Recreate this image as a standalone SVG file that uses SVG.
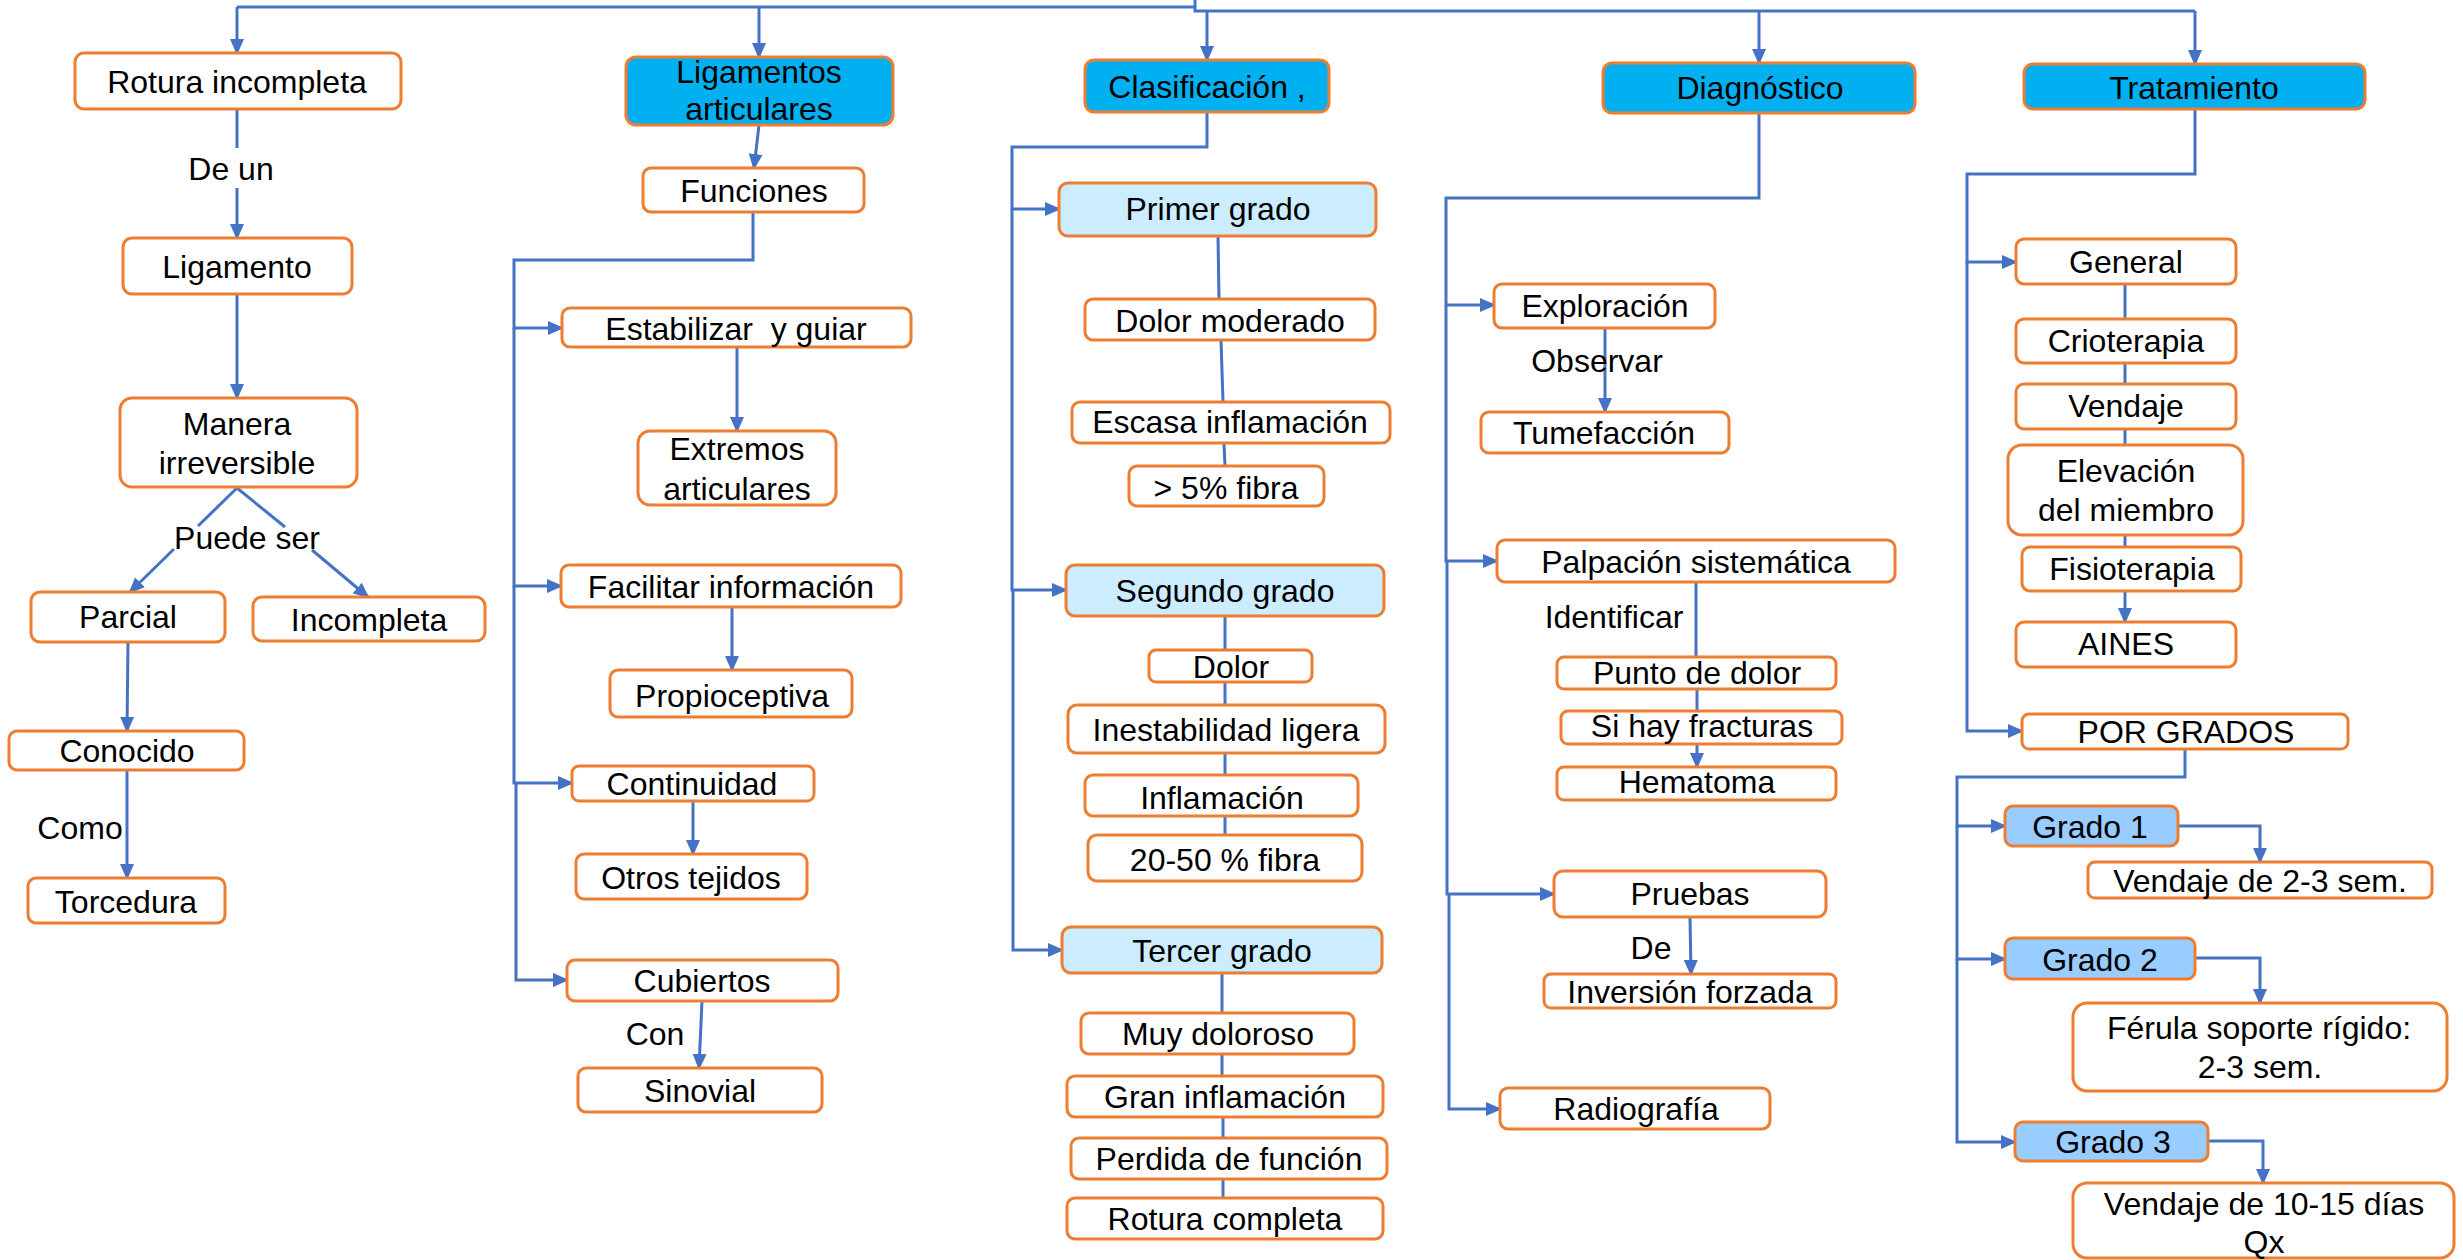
<svg xmlns="http://www.w3.org/2000/svg" width="2463" height="1260" viewBox="0 0 2463 1260">
<style>
.b{fill:#fff;stroke:#ED7D31;stroke-width:3}
.hd{fill:#00B0F0}
.lb{fill:#CCECFF}
.gb{fill:#99CCFF}
text{font-family:"Liberation Sans",Arial,sans-serif;font-size:32px;fill:#000;text-anchor:middle}
.c{fill:none;stroke:#4472C4;stroke-width:3}
.a{marker-end:url(#ah)}
</style>
<defs>
<marker id="ah" markerUnits="userSpaceOnUse" markerWidth="16" markerHeight="16" viewBox="0 0 16 16" refX="14" refY="8" orient="auto"><path d="M0,1 L16,8 L0,15 z" fill="#4472C4"/></marker>
</defs>
<rect width="2463" height="1260" fill="#fff"/>
<g id="connectors">
<path class="c" d="M237,7 H1195 V11 H2195 M1195,0 V11"/>
<path class="c a" d="M237,7 V53"/>
<path class="c a" d="M759,8 V57"/>
<path class="c a" d="M1207,11 V60"/>
<path class="c a" d="M1759,11 V63"/>
<path class="c a" d="M2195,11 V64"/>
<path class="c" d="M237,109 V148"/>
<path class="c a" d="M237,188 V238"/>
<path class="c a" d="M237,294 V398"/>
<path class="c" d="M237,488 L198,526"/>
<path class="c a" d="M174,549 L130,592"/>
<path class="c" d="M237,488 L285,527"/>
<path class="c a" d="M312,550 L368,597"/>
<path class="c a" d="M128,642 L127,731"/>
<path class="c a" d="M127,770 V878"/>
<path class="c a" d="M759,125 L754,168"/>
<path class="c a" d="M753,212 V260 H514 V328 H562"/>
<path class="c a" d="M514,328 V586 H561"/>
<path class="c a" d="M514,586 V783 H572"/>
<path class="c a" d="M516,783 V980 H567"/>
<path class="c a" d="M737,347 V431"/>
<path class="c a" d="M732,607 V670"/>
<path class="c a" d="M693,801 V854"/>
<path class="c a" d="M702,1001 L699,1068"/>
<path class="c a" d="M1207,112 V147 H1012 V209 H1059"/>
<path class="c a" d="M1012,209 V590 H1066"/>
<path class="c a" d="M1013,590 V950 H1062"/>
<path class="c" d="M1218,236 L1219,299 M1221,340 L1223,402 M1224,443 L1225,466"/>
<path class="c" d="M1225,616 V650 M1225,682 V705 M1225,753 V775 M1225,816 V835"/>
<path class="c" d="M1222,973 V1013 M1222,1054 V1076 M1223,1117 V1138 M1223,1179 V1198"/>
<path class="c a" d="M1759,113 V198 H1446 V305 H1494"/>
<path class="c a" d="M1446,305 V561 H1497"/>
<path class="c a" d="M1447,561 V894 H1554"/>
<path class="c a" d="M1449,894 V1109 H1500"/>
<path class="c a" d="M1605,328 V412"/>
<path class="c" d="M1696,582 V657 M1697,689 V711"/>
<path class="c a" d="M1697,744 V767"/>
<path class="c a" d="M1690,917 L1691,974"/>
<path class="c a" d="M2195,109 V174 H1967 V262 H2016"/>
<path class="c a" d="M1967,262 V731 H2022"/>
<path class="c" d="M2125,284 V319 M2125,363 V384 M2125,429 V445 M2125,535 V547"/>
<path class="c a" d="M2125,591 V622"/>
<path class="c a" d="M2185,749 V777 H1957 V826 H2005"/>
<path class="c a" d="M1957,826 V959 H2005"/>
<path class="c a" d="M1957,959 V1142 H2015"/>
<path class="c a" d="M2178,826 H2260 V862"/>
<path class="c a" d="M2195,958 H2260 V1003"/>
<path class="c a" d="M2208,1141 H2263 V1183"/>
</g>
<g id="labels">
<text x="231" y="180">De un</text>
<text x="247" y="549">Puede ser</text>
<text x="80" y="839">Como</text>
<text x="655" y="1045">Con</text>
<text x="1597" y="372">Observar</text>
<text x="1614" y="628">Identificar</text>
<text x="1651" y="959">De</text>
</g>
<g id="n_rotura"><rect class="b" x="75" y="53" width="326" height="56" rx="9"/><text x="237" y="93">Rotura incompleta</text></g>
<g id="n_ligamento"><rect class="b" x="123" y="238" width="229" height="56" rx="9"/><text x="237" y="278">Ligamento</text></g>
<g id="n_manera"><rect class="b" x="120" y="398" width="237" height="89" rx="12"/><text x="237" y="435">Manera</text><text x="237" y="474">irreversible</text></g>
<g id="n_parcial"><rect class="b" x="31" y="592" width="194" height="50" rx="9"/><text x="128" y="628">Parcial</text></g>
<g id="n_incompleta"><rect class="b" x="253" y="597" width="232" height="44" rx="9"/><text x="369" y="631">Incompleta</text></g>
<g id="n_conocido"><rect class="b" x="9" y="731" width="235" height="39" rx="8"/><text x="127" y="762">Conocido</text></g>
<g id="n_torcedura"><rect class="b" x="28" y="878" width="197" height="45" rx="8"/><text x="126" y="913">Torcedura</text></g>
<g id="n_ligart"><rect class="b hd" x="626" y="57" width="267" height="68" rx="10"/><text x="759" y="83">Ligamentos</text><text x="759" y="120">articulares</text></g>
<g id="n_funciones"><rect class="b" x="643" y="168" width="221" height="44" rx="8"/><text x="754" y="202">Funciones</text></g>
<g id="n_estab"><rect class="b" x="562" y="308" width="349" height="39" rx="8"/><text x="736" y="340" xml:space="preserve">Estabilizar  y guiar</text></g>
<g id="n_extremos"><rect class="b" x="638" y="431" width="198" height="74" rx="12"/><text x="737" y="460">Extremos</text><text x="737" y="500">articulares</text></g>
<g id="n_facilitar"><rect class="b" x="561" y="565" width="340" height="42" rx="8"/><text x="731" y="598">Facilitar información</text></g>
<g id="n_propio"><rect class="b" x="610" y="670" width="242" height="47" rx="8"/><text x="732" y="707">Propioceptiva</text></g>
<g id="n_continuidad"><rect class="b" x="572" y="766" width="242" height="35" rx="7"/><text x="692" y="795">Continuidad</text></g>
<g id="n_otros"><rect class="b" x="576" y="854" width="231" height="45" rx="8"/><text x="691" y="889">Otros tejidos</text></g>
<g id="n_cubiertos"><rect class="b" x="567" y="960" width="271" height="41" rx="8"/><text x="702" y="992">Cubiertos</text></g>
<g id="n_sinovial"><rect class="b" x="578" y="1068" width="244" height="44" rx="8"/><text x="700" y="1102">Sinovial</text></g>
<g id="n_clasif"><rect class="b hd" x="1085" y="60" width="244" height="52" rx="9"/><text x="1207" y="98">Clasificación ,</text></g>
<g id="n_primer"><rect class="b lb" x="1059" y="183" width="317" height="53" rx="9"/><text x="1218" y="220">Primer grado</text></g>
<g id="n_dolormod"><rect class="b" x="1085" y="299" width="290" height="41" rx="8"/><text x="1230" y="332">Dolor moderado</text></g>
<g id="n_escasa"><rect class="b" x="1072" y="402" width="318" height="41" rx="8"/><text x="1230" y="433">Escasa inflamación</text></g>
<g id="n_5fibra"><rect class="b" x="1129" y="466" width="195" height="40" rx="8"/><text x="1226" y="499">&gt; 5% fibra</text></g>
<g id="n_segundo"><rect class="b lb" x="1066" y="565" width="318" height="51" rx="9"/><text x="1225" y="602">Segundo grado</text></g>
<g id="n_dolor"><rect class="b" x="1149" y="650" width="163" height="32" rx="7"/><text x="1231" y="678">Dolor</text></g>
<g id="n_inest"><rect class="b" x="1068" y="705" width="317" height="48" rx="9"/><text x="1226" y="741">Inestabilidad ligera</text></g>
<g id="n_inflam"><rect class="b" x="1085" y="775" width="273" height="41" rx="8"/><text x="1222" y="809">Inflamación</text></g>
<g id="n_2050"><rect class="b" x="1088" y="835" width="274" height="46" rx="9"/><text x="1225" y="871">20-50 % fibra</text></g>
<g id="n_tercer"><rect class="b lb" x="1062" y="927" width="320" height="46" rx="9"/><text x="1222" y="962">Tercer grado</text></g>
<g id="n_muy"><rect class="b" x="1081" y="1013" width="273" height="41" rx="8"/><text x="1218" y="1045">Muy doloroso</text></g>
<g id="n_gran"><rect class="b" x="1067" y="1076" width="316" height="41" rx="8"/><text x="1225" y="1108">Gran inflamación</text></g>
<g id="n_perdida"><rect class="b" x="1071" y="1138" width="316" height="41" rx="8"/><text x="1229" y="1170">Perdida de función</text></g>
<g id="n_rotcomp"><rect class="b" x="1067" y="1198" width="316" height="41" rx="8"/><text x="1225" y="1230">Rotura completa</text></g>
<g id="n_diag"><rect class="b hd" x="1603" y="63" width="312" height="50" rx="9"/><text x="1760" y="99">Diagnóstico</text></g>
<g id="n_explor"><rect class="b" x="1494" y="284" width="221" height="44" rx="8"/><text x="1605" y="317">Exploración</text></g>
<g id="n_tumef"><rect class="b" x="1481" y="412" width="248" height="41" rx="8"/><text x="1604" y="444">Tumefacción</text></g>
<g id="n_palp"><rect class="b" x="1497" y="540" width="398" height="42" rx="8"/><text x="1696" y="573">Palpación sistemática</text></g>
<g id="n_punto"><rect class="b" x="1557" y="657" width="279" height="32" rx="7"/><text x="1697" y="684">Punto de dolor</text></g>
<g id="n_sihay"><rect class="b" x="1561" y="711" width="281" height="33" rx="7"/><text x="1702" y="737">Si hay fracturas</text></g>
<g id="n_hemat"><rect class="b" x="1557" y="767" width="279" height="33" rx="7"/><text x="1697" y="793">Hematoma</text></g>
<g id="n_pruebas"><rect class="b" x="1554" y="871" width="272" height="46" rx="9"/><text x="1690" y="905">Pruebas</text></g>
<g id="n_inversion"><rect class="b" x="1544" y="974" width="292" height="34" rx="7"/><text x="1690" y="1003">Inversión forzada</text></g>
<g id="n_radio"><rect class="b" x="1500" y="1088" width="270" height="41" rx="8"/><text x="1636" y="1120">Radiografía</text></g>
<g id="n_trat"><rect class="b hd" x="2024" y="64" width="341" height="45" rx="9"/><text x="2194" y="99">Tratamiento</text></g>
<g id="n_general"><rect class="b" x="2016" y="239" width="220" height="45" rx="8"/><text x="2126" y="273">General</text></g>
<g id="n_crio"><rect class="b" x="2016" y="319" width="220" height="44" rx="8"/><text x="2126" y="352">Crioterapia</text></g>
<g id="n_vendaje"><rect class="b" x="2016" y="384" width="220" height="45" rx="8"/><text x="2126" y="417">Vendaje</text></g>
<g id="n_elev"><rect class="b" x="2008" y="445" width="235" height="90" rx="14"/><text x="2126" y="482">Elevación</text><text x="2126" y="521">del miembro</text></g>
<g id="n_fisio"><rect class="b" x="2022" y="547" width="219" height="44" rx="8"/><text x="2132" y="580">Fisioterapia</text></g>
<g id="n_aines"><rect class="b" x="2016" y="622" width="220" height="45" rx="8"/><text x="2126" y="655">AINES</text></g>
<g id="n_porgrados"><rect class="b" x="2022" y="714" width="326" height="35" rx="7"/><text x="2186" y="743">POR GRADOS</text></g>
<g id="n_g1"><rect class="b gb" x="2005" y="806" width="173" height="40" rx="8"/><text x="2090" y="838">Grado 1</text></g>
<g id="n_v23"><rect class="b" x="2088" y="862" width="344" height="36" rx="7"/><text x="2260" y="892">Vendaje de 2-3 sem.</text></g>
<g id="n_g2"><rect class="b gb" x="2005" y="938" width="190" height="41" rx="8"/><text x="2100" y="971">Grado 2</text></g>
<g id="n_ferula"><rect class="b" x="2073" y="1003" width="374" height="88" rx="14"/><text x="2259" y="1039">Férula soporte rígido:</text><text x="2260" y="1078">2-3 sem.</text></g>
<g id="n_g3"><rect class="b gb" x="2015" y="1122" width="193" height="39" rx="8"/><text x="2113" y="1153">Grado 3</text></g>
<g id="n_v1015"><rect class="b" x="2073" y="1183" width="381" height="75" rx="14"/><text x="2264" y="1215">Vendaje de 10-15 días</text><text x="2264" y="1253">Qx</text></g>
</svg>
